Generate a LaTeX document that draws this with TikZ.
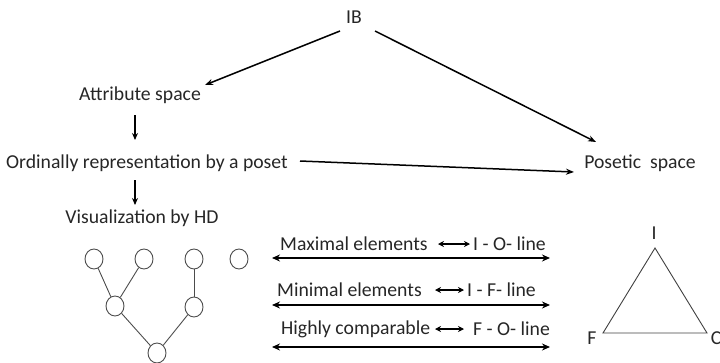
\documentclass[tikz,border=0pt]{standalone}
\usepackage{fontspec}
\setmainfont{Carlito}
\usetikzlibrary{arrows.meta,shapes.geometric}
\begin{document}
\begin{tikzpicture}[x=1pt,y=-1pt,
  lbl/.style={inner sep=0pt,font=\fontsize{19.7}{23}\selectfont,text=black!85},
  conn/.style={line width=1.5pt,-{Stealth[length=8pt,width=6pt]}},
  longarr/.style={line width=2.2pt,{Stealth[length=8pt,width=7pt]}-{Stealth[length=8pt,width=7pt]}},
  shortarr/.style={line width=1.8pt,{Stealth[length=6pt,width=6pt]}-{Stealth[length=6pt,width=6pt]}},
  hd/.style={draw=black!70,line width=0.9pt,fill=white,ellipse,minimum width=18pt,minimum height=20pt,inner sep=0pt},
  hdedge/.style={draw=black!70,line width=0.9pt},
  tri/.style={draw=black!75,line width=0.9pt}]
\useasboundingbox (0,0) rectangle (720,362);
% main nodes
\node[lbl] (ib) at (354,17) {IB};
\node[lbl] (attr) at (140,95) {Attribute space};
\node[lbl] (ord) at (147,163) {Ordinally representation by a poset};
\node[lbl] (pos) at (640,163) {Posetic\ \ space};
\node[lbl] (vis) at (142,218) {Visualization by HD};
% connectors
\coordinate (ibL) at (340,31);
\coordinate (ibR) at (375,31);
\coordinate (attrIn) at (205,85);
\coordinate (posIn) at (596,142);
\coordinate (ordOut) at (300,161);
\coordinate (posIn2) at (574,172);
\coordinate (a1) at (135,115);
\coordinate (a2) at (135,140);
\coordinate (b1) at (135,180);
\coordinate (b2) at (135,205);
\draw[conn] (ibL) -- (attrIn);
\draw[conn] (ibR) -- (posIn);
\draw[conn] (ordOut) -- (posIn2);
\draw[line width=1.3pt,-{Stealth[length=7pt,width=6pt]}] (a1) -- (a2);
\draw[line width=1.3pt,-{Stealth[length=7pt,width=6pt]}] (b1) -- (b2);
% Hasse diagram
\node[hd] (h1) at (94,259) {};
\node[hd] (h2) at (144,259) {};
\node[hd] (h3) at (194,259) {};
\node[hd] (h4) at (239,259) {};
\node[hd] (h5) at (115,306) {};
\node[hd] (h6) at (194,307) {};
\node[hd] (h7) at (157,353) {};
\draw[hdedge] (h1) -- (h5);
\draw[hdedge] (h2) -- (h5);
\draw[hdedge] (h3) -- (h6);
\draw[hdedge] (h5) -- (h7);
\draw[hdedge] (h6) -- (h7);
% long arrows
\coordinate (l1a) at (272,258); \coordinate (l1b) at (550,258);
\coordinate (l2a) at (272,305); \coordinate (l2b) at (550,305);
\coordinate (l3a) at (272,347); \coordinate (l3b) at (550,347);
\draw[longarr] (l1a) -- (l1b);
\draw[longarr] (l2a) -- (l2b);
\draw[longarr] (l3a) -- (l3b);
% row texts
\node[lbl,anchor=west] (m1) at (280,244) {Maximal elements};
\node[lbl,anchor=west] (m2) at (473,244) {I - O- line};
\node[lbl,anchor=west] (n1) at (277,290) {Minimal elements};
\node[lbl,anchor=west] (n2) at (467,290) {I - F- line};
\node[lbl,anchor=west] (c1) at (281,329) {Highly comparable};
\node[lbl,anchor=west] (c2) at (473,329) {F - O- line};
\coordinate (s1a) at (438,244); \coordinate (s1b) at (470,244);
\coordinate (s2a) at (435,290); \coordinate (s2b) at (464,290);
\coordinate (s3a) at (435,329); \coordinate (s3b) at (464,329);
\draw[shortarr] (s1a) -- (s1b);
\draw[shortarr] (s2a) -- (s2b);
\draw[shortarr] (s3a) -- (s3b);
% triangle
\coordinate (tI) at (655,248);
\coordinate (tF) at (603,333);
\coordinate (tC) at (707,333);
\draw[tri] (tI) -- (tF) -- (tC) -- cycle;
\node[lbl] (lI) at (654,233) {I};
\node[lbl] (lF) at (592,338) {F};
\node[lbl] (lC) at (716,338) {C};
\end{tikzpicture}
\end{document}
